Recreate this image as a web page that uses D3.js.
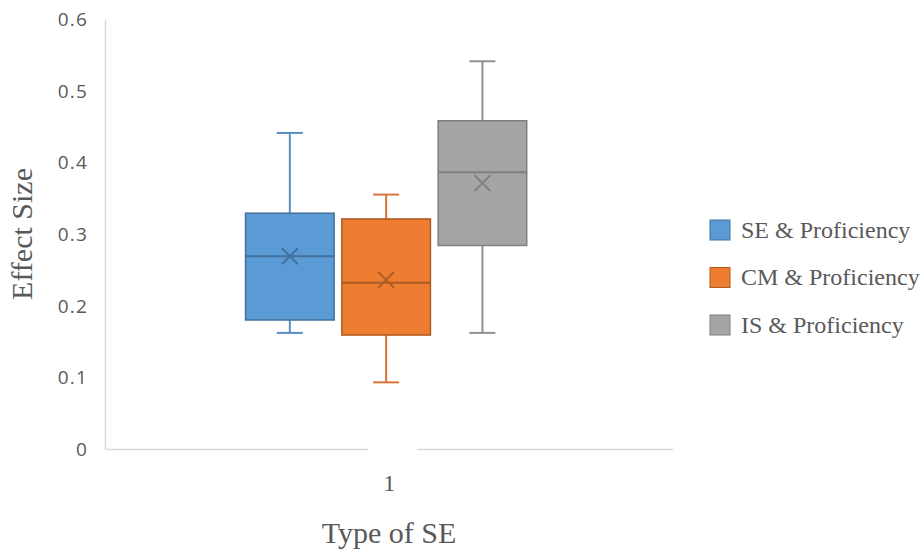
<!DOCTYPE html>
<html>
<head>
<meta charset="utf-8">
<script src="https://cdn.jsdelivr.net/npm/d3@7"></script>
<style>
  body { margin: 0; background: #fff; }
  text { fill: #595959; }
</style>
</head>
<body>
<div id="chart"></div>
<script>
var categories = ["1"];
var series = ["SE & Proficiency", "CM & Proficiency", "IS & Proficiency"];
var mins    = [0.162, 0.093, 0.162];
var q1s     = [0.180, 0.159, 0.284];
var medians = [0.269, 0.232, 0.386];
var q3s     = [0.329, 0.321, 0.458];
var maxs    = [0.441, 0.355, 0.541];
var means   = [0.269, 0.236, 0.371];
var yTicks  = [0, 0.1, 0.2, 0.3, 0.4, 0.5, 0.6];

var fills   = ["#5b9bd5", "#ed7d31", "#a5a5a5"];
var strokes = ["#41719c", "#ae5a21", "#7f7f7f"];
var whisk   = ["#5a8ec2", "#d8733a", "#909090"];

var width = 922, height = 550;
var plotLeft = 105, plotRight = 673, plotTop = 19, plotBottom = 449;

var svg = d3.select("#chart").append("svg")
    .attr("width", width)
    .attr("height", height);

var y = d3.scaleLinear().domain([0, 0.6]).range([plotBottom, plotTop]);

var x0 = d3.scaleBand()
    .domain(categories)
    .range([plotLeft, plotRight])
    .paddingInner(0)
    .paddingOuter(0.51)
    .align(0.49);

var x1 = d3.scaleBand()
    .domain(series)
    .range([0, x0.bandwidth()])
    .paddingInner(0.08)
    .paddingOuter(0);

// y axis
var yAxis = svg.append("g")
    .attr("transform", "translate(" + plotLeft + ",0)")
    .call(d3.axisLeft(y).tickValues(yTicks).tickSize(0).tickPadding(17)
      .tickFormat(function(d) { return d === 0 ? "0" : d3.format(".1f")(d); }));
yAxis.select(".domain").attr("stroke", "#d9d9d9").attr("stroke-width", 1.5);
yAxis.selectAll("text")
    .style("font-family", "'Open Sans', sans-serif")
    .style("font-size", "19px")
    .style("letter-spacing", "1.2px")
    .attr("dy", "0.35em");

// x axis
var xAxis = svg.append("g")
    .attr("transform", "translate(0," + plotBottom + ")")
    .call(d3.axisBottom(x0).tickSize(0).tickPadding(25));
xAxis.select(".domain").attr("stroke", "#d9d9d9").attr("stroke-width", 1.5);
xAxis.insert("rect", ".tick")
    .attr("x", 368).attr("y", -4).attr("width", 49).attr("height", 8)
    .attr("fill", "#fff");
xAxis.selectAll("text")
    .style("font-family", "'Liberation Serif', serif")
    .style("font-size", "24px")
    .attr("dx", 3)
    .attr("dy", "0.71em");

var g = svg.append("g")
    .attr("transform", "translate(" + x0(categories[0]) + ",0)");

var boxes = g.selectAll(".box")
    .data(series)
  .enter().append("g")
    .attr("class", "box")
    .attr("transform", function(d) { return "translate(" + x1(d) + ",0)"; });

var bw = x1.bandwidth(), cx = bw / 2, cap = 13;

// whiskers
boxes.append("line")
    .attr("x1", cx).attr("x2", cx)
    .attr("y1", function(d, i) { return y(maxs[i]); })
    .attr("y2", function(d, i) { return y(q3s[i]); })
    .attr("stroke", function(d, i) { return whisk[i]; })
    .attr("stroke-width", 2);
boxes.append("line")
    .attr("x1", cx).attr("x2", cx)
    .attr("y1", function(d, i) { return y(q1s[i]); })
    .attr("y2", function(d, i) { return y(mins[i]); })
    .attr("stroke", function(d, i) { return whisk[i]; })
    .attr("stroke-width", 2);
boxes.append("line")
    .attr("x1", cx - cap).attr("x2", cx + cap)
    .attr("y1", function(d, i) { return y(maxs[i]); })
    .attr("y2", function(d, i) { return y(maxs[i]); })
    .attr("stroke", function(d, i) { return whisk[i]; })
    .attr("stroke-width", 2);
boxes.append("line")
    .attr("x1", cx - cap).attr("x2", cx + cap)
    .attr("y1", function(d, i) { return y(mins[i]); })
    .attr("y2", function(d, i) { return y(mins[i]); })
    .attr("stroke", function(d, i) { return whisk[i]; })
    .attr("stroke-width", 2);

// box
boxes.append("rect")
    .attr("x", 0)
    .attr("width", bw)
    .attr("y", function(d, i) { return y(q3s[i]); })
    .attr("height", function(d, i) { return y(q1s[i]) - y(q3s[i]); })
    .attr("fill", function(d, i) { return fills[i]; })
    .attr("stroke", function(d, i) { return strokes[i]; })
    .attr("stroke-width", 1.5);

// median
boxes.append("line")
    .attr("x1", 0).attr("x2", bw)
    .attr("y1", function(d, i) { return y(medians[i]); })
    .attr("y2", function(d, i) { return y(medians[i]); })
    .attr("stroke", function(d, i) { return strokes[i]; })
    .attr("stroke-width", 2);

// mean marker
var m = 8;
boxes.append("path")
    .attr("d", function(d, i) {
      var my = y(means[i]);
      return "M" + (cx - m) + "," + (my - m) + "L" + (cx + m) + "," + (my + m) +
             "M" + (cx - m) + "," + (my + m) + "L" + (cx + m) + "," + (my - m);
    })
    .attr("fill", "none")
    .attr("stroke", function(d, i) { return strokes[i]; })
    .attr("stroke-width", 2);

// axis titles
svg.append("text")
    .attr("transform", "translate(32,234) rotate(-90)")
    .attr("text-anchor", "middle")
    .style("font-family", "'Liberation Serif', serif")
    .style("font-size", "30px")
    .text("Effect Size");

svg.append("text")
    .attr("x", 389).attr("y", 543)
    .attr("text-anchor", "middle")
    .style("font-family", "'Liberation Serif', serif")
    .style("font-size", "30px")
    .text("Type of SE");

// legend
var legend = svg.selectAll(".legend")
    .data(series)
  .enter().append("g")
    .attr("class", "legend")
    .attr("transform", function(d, i) { return "translate(710," + (220 + i * 47.5) + ")"; });

legend.append("rect")
    .attr("width", 20).attr("height", 20)
    .attr("fill", function(d, i) { return fills[i]; })
    .attr("stroke", function(d, i) { return strokes[i]; })
    .attr("stroke-width", 1);

legend.append("text")
    .attr("x", 31).attr("y", 17.5)
    .style("font-family", "'Liberation Serif', serif")
    .style("font-size", "24px")
    .text(function(d) { return d; });
</script>
</body>
</html>
